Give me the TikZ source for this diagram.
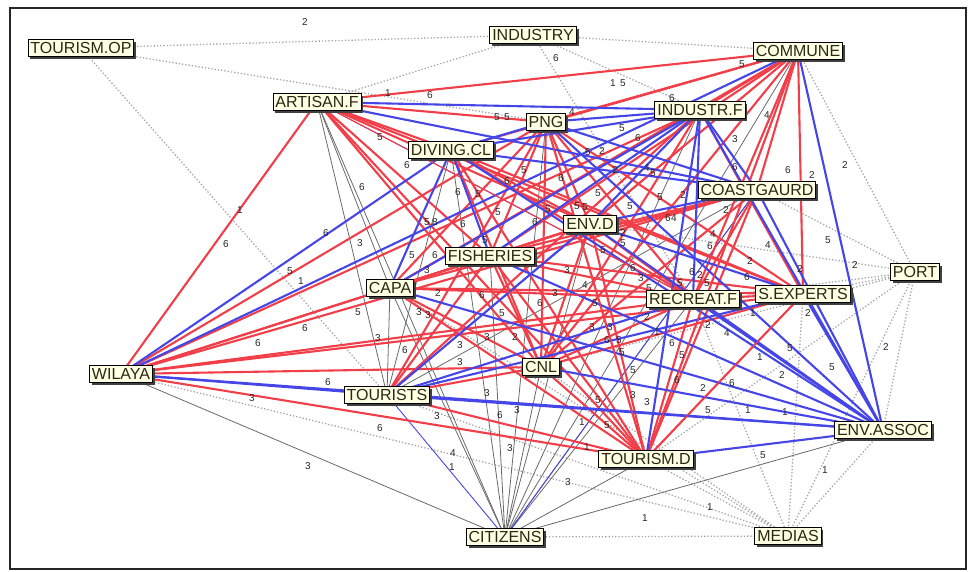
\documentclass[tikz,border=0pt]{standalone}
\usepackage{fontspec}
\setmainfont{Liberation Sans}
\usetikzlibrary{shadows}
\definecolor{cream}{RGB}{255,255,228}
\definecolor{edgered}{RGB}{242,62,72}
\definecolor{edgeblue}{RGB}{70,70,232}
\definecolor{edgegray}{RGB}{105,105,105}
\definecolor{dotgray}{RGB}{165,165,165}
\definecolor{txt}{RGB}{40,40,20}
\pgfdeclarelayer{bg}
\pgfsetlayers{bg,main}
\tikzset{
  actor/.style={draw=black, line width=0.9pt, fill=cream, text=txt,
    font=\fontsize{16}{16}\selectfont, inner xsep=2.4pt, inner ysep=3pt,
    text height=11.5pt, text depth=0pt,
    drop shadow={shadow xshift=2.4pt, shadow yshift=-2.4pt, fill=black!75, opacity=1}},
  lbl/.style={font=\fontsize{10}{10}\selectfont, text=black!85, inner sep=0pt},
  R/.style={draw=edgered, line width=2.1pt},
  Rt/.style={draw=edgered, line width=1.1pt},
  B/.style={draw=edgeblue, line width=2.1pt},
  Bt/.style={draw=edgeblue, line width=0.9pt},
  G/.style={draw=edgegray, line width=0.8pt},
  D/.style={draw=dotgray, line width=1.3pt, dotted},
}
\begin{document}
\begin{tikzpicture}[x=1pt,y=-1pt]
\useasboundingbox (0,0) rectangle (969,572);
\draw[line width=1.4pt, black!85] (10,8) rectangle (966,569);

% nodes
\node[actor] (top)  at (81,48)   {TOURISM.OP};
\node[actor] (ind)  at (533,35)  {INDUSTRY};
\node[actor] (com)  at (798,51)  {COMMUNE};
\node[actor] (art)  at (317,102) {ARTISAN.F};
\node[actor] (png)  at (546,122) {PNG};
\node[actor] (indf) at (700,110) {INDUSTR.F};
\node[actor] (div)  at (451,150) {DIVING.CL};
\node[actor] (cg)   at (757,190) {COASTGAURD};
\node[actor] (envd) at (590,224) {ENV.D};
\node[actor] (fish) at (490,256) {FISHERIES};
\node[actor] (port) at (915,272) {PORT};
\node[actor] (capa) at (390,288) {CAPA};
\node[actor] (rec)  at (693,299) {RECREAT.F};
\node[actor] (sexp) at (803,294) {S.EXPERTS};
\node[actor] (wil)  at (121,374) {WILAYA};
\node[actor] (cnl)  at (541,367) {CNL};
\node[actor] (tou)  at (387,395) {TOURISTS};
\node[actor] (enva) at (883,430) {ENV.ASSOC};
\node[actor] (toud) at (646,459) {TOURISM.D};
\node[actor] (cit)  at (505,537) {CITIZENS};
\node[actor] (med)  at (788,536) {MEDIAS};

\begin{pgfonlayer}{bg}
% dotted ties
\foreach \a/\b in {top/ind, top/png, top/tou, ind/com, ind/art, ind/indf, ind/rec,
  com/port, com/enva, port/sexp, port/rec, port/enva, port/med, port/cg, port/envd,
  port/cnl, port/toud, med/cit, med/toud, med/cnl, med/enva, med/rec, med/sexp,
  med/wil, med/tou, med/capa}
  \draw[D] (\a.center) -- (\b.center);
% thin gray ties
\foreach \a/\b in {art/capa, art/tou, art/cit, capa/tou, capa/cit, capa/cnl, fish/cit,
  div/cit, png/cit, envd/cit, cnl/cit, toud/cit, rec/cit, enva/cit, com/cit, wil/cit,
  indf/cit, cg/cit, tou/toud, fish/tou, div/tou, cg/tou, com/tou}
  \draw[G] (\a.center) -- (\b.center);
% thin blue ties
\foreach \a/\b in {tou/cit, cg/cit, wil/capa, art/rec}
  \draw[Bt] (\a.center) -- (\b.center);
% red ties
\foreach \a/\b in {com/art, com/png, com/indf, com/div, com/cg, com/envd, com/fish,
  com/capa, com/rec, com/sexp, com/cnl, com/toud,
  art/png, art/div, art/envd, art/fish, art/sexp, art/cnl, art/toud, art/wil,
  png/envd, png/fish, png/capa, png/rec, png/sexp, png/cnl, png/toud, png/wil, png/tou,
  indf/sexp, indf/cnl, indf/wil, indf/tou,
  div/envd, div/rec, div/sexp, div/cnl, div/toud,
  cg/fish, cg/capa, cg/rec, cg/cnl, cg/toud, cg/wil,
  envd/fish, envd/capa, envd/rec, envd/cnl, envd/toud, envd/wil,
  fish/capa, fish/rec, fish/sexp, fish/cnl, fish/toud, fish/tou, fish/wil,
  capa/rec, capa/sexp, capa/cnl, capa/toud,
  rec/sexp, rec/cnl, rec/toud, rec/wil,
  sexp/cnl, sexp/toud, sexp/wil,
  cnl/toud, cnl/tou, cnl/wil, toud/tou, toud/wil}
  \draw[R] (\a.center) -- (\b.center);
% blue ties
\foreach \a/\b in {art/indf, art/cg, png/indf, png/div, png/cg, png/enva,
  indf/div, indf/cg, indf/envd, indf/fish, indf/capa, indf/rec, indf/toud, indf/enva,
  div/cg, div/fish, div/capa, div/enva, div/wil,
  cg/envd, cg/enva, envd/sexp, envd/enva, envd/tou,
  fish/enva, capa/enva, rec/enva, rec/tou, sexp/enva, sexp/tou,
  cnl/enva, toud/enva, tou/enva, tou/wil, com/wil, com/enva, wil/enva}
  \draw[B] (\a.center) -- (\b.center);
% a few red ties drawn over the blue
\foreach \a/\b in {art/rec, sexp/toud, com/toud, png/toud, capa/rec}
  \draw[Rt] (\a.center) -- (\b.center);
\end{pgfonlayer}

% tie weights
\foreach \x/\y/\t [count=\i] in {305/22/2, 556/58/6, 613/83/1, 623/83/5, 388/93/1, 430/95/6,
  742/64/5, 672/98/6, 497/117/5, 507/117/5, 572/112/4, 622/128/5, 638/138/6, 380/137/5,
  407/165/6, 362/187/6, 458/192/6, 478/194/5, 507/181/6, 524/170/5, 561/178/6, 588/152/5,
  602/151/2, 615/170/2, 647/168/4, 653/173/5, 598/193/5, 767/115/4, 735/139/3, 735/167/6,
  788/170/6, 812/175/2, 845/165/2, 683/195/2, 660/197/5, 630/206/5, 668/218/6, 674/218/4,
  726/210/2, 713/234/4, 710/246/6, 768/245/4, 828/240/5, 855/265/2, 750/261/2, 800/269/2,
  747/277/6, 692/272/6, 700/275/2, 707/283/5, 680/283/5, 649/288/5, 427/222/5, 435/222/8,
  463/224/6, 485/240/5, 498/212/5, 535/222/6, 548/209/5, 577/206/5, 585/207/5, 623/233/2,
  603/250/5, 623/243/5, 633/268/6, 641/278/3, 412/255/5, 435/255/6, 360/243/3, 326/233/6,
  427/270/3, 438/293/2, 482/295/6, 419/312/3, 428/315/3, 358/312/5, 502/313/5, 540/303/6,
  567/270/3, 555/293/3, 585/285/4, 595/303/5, 592/327/3, 610/327/3, 515/337/2, 487/337/3,
  460/345/3, 378/338/3, 405/350/6, 460/362/3, 607/340/6, 619/340/5, 622/352/5, 633/370/5,
  647/317/2, 657/332/1, 672/343/6, 682/355/5, 677/380/6, 703/388/2, 732/383/6, 727/333/4,
  708/325/2, 753/313/1, 808/313/2, 790/348/5, 760/357/1, 782/375/2, 832/367/5, 886/347/2,
  633/395/3, 647/402/3, 708/410/5, 748/410/1, 785/412/1, 598/400/5, 582/422/1, 607/425/5,
  587/447/1, 763/455/5, 825/470/1, 710/507/1, 645/518/1, 568/482/3, 510/448/3, 487/393/3,
  500/415/6, 517/410/3, 453/453/4, 452/467/1, 437/416/3, 380/428/6, 308/466/3, 252/398/3,
  328/382/6, 258/343/6, 305/328/6, 290/271/5, 301/281/1, 240/210/1, 226/244/6}
  \node[lbl] (w\i) at (\x,\y) {\t};
\end{tikzpicture}
\end{document}
